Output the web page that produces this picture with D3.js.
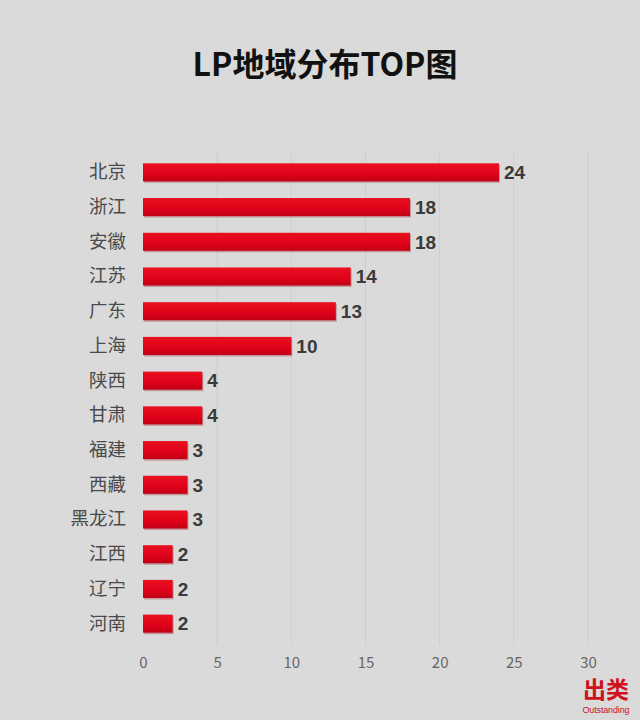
<!DOCTYPE html>
<html><head><meta charset="utf-8">
<script src="https://cdn.jsdelivr.net/npm/d3@7"></script>
<style>body{margin:0;background:#dadada;}svg{display:block;}</style>
</head><body>
<svg id="c" width="640" height="720"></svg>
<script>
const categories = ["北京","浙江","安徽","江苏","广东","上海","陕西","甘肃","福建","西藏","黑龙江","江西","辽宁","河南"];
const values = [24,18,18,14,13,10,4,4,3,3,3,2,2,2];
const tickValues = [0,5,10,15,20,25,30];

const svg = d3.select("#c");
const font = "'Noto Sans CJK SC','Noto Sans',sans-serif";
svg.append("rect").attr("width",640).attr("height",720).attr("fill","#dadada");

const defs = svg.append("defs");
const g = defs.append("linearGradient").attr("id","bg").attr("x1",0).attr("y1",0).attr("x2",0).attr("y2",1);
g.append("stop").attr("offset","0%").attr("stop-color","#e8101f");
g.append("stop").attr("offset","60%").attr("stop-color","#e0021a");
g.append("stop").attr("offset","100%").attr("stop-color","#bf0015");

const x = d3.scaleLinear().domain([0,30]).range([143,588]);
const y = d3.scaleBand().domain(categories).range([155,641]).paddingInner(0.48).paddingOuter(0.24);

// gridlines
svg.append("g").selectAll("line").data(tickValues.slice(1)).join("line")
  .attr("x1",d=>x(d)).attr("x2",d=>x(d)).attr("y1",150).attr("y2",645)
  .attr("stroke","#cecece").attr("stroke-width",1);

// title
svg.append("text").attr("x",325).attr("y",76).attr("text-anchor","middle")
  .attr("font-family",font).attr("font-size",32).attr("font-weight","bold").attr("fill","#111")
  .text("LP地域分布TOP图");

// bars shadow
svg.append("g").selectAll("rect").data(values).join("rect")
  .attr("x",x(0)+1).attr("y",(d,i)=>y(categories[i])+1.5)
  .attr("width",d=>x(d)-x(0)).attr("height",y.bandwidth())
  .attr("fill","#8a0010").attr("opacity",0.3);
svg.append("g").selectAll("rect").data(values).join("rect")
  .attr("x",x(0)).attr("y",(d,i)=>y(categories[i]))
  .attr("width",d=>x(d)-x(0)).attr("height",y.bandwidth())
  .attr("fill","url(#bg)");

// value labels
svg.append("g").selectAll("text").data(values).join("text")
  .attr("x",d=>x(d)+5).attr("y",(d,i)=>y(categories[i])+y.bandwidth()/2)
  .attr("dy","0.36em").attr("font-family","'Liberation Sans',Arial,sans-serif").attr("font-size",19).attr("font-weight","bold")
  .attr("fill","#3a3a3a").text(d=>d);

// category axis
const ya = svg.append("g").attr("transform","translate(134,0)")
  .call(d3.axisLeft(y).tickSize(0).tickPadding(8));
ya.select(".domain").remove();
ya.selectAll("text").attr("font-family",font).attr("font-size",18.5).attr("fill","#4a4a4a");

// x axis
const xa = svg.append("g").attr("transform","translate(0,651)")
  .call(d3.axisBottom(x).tickValues(tickValues).tickSize(0).tickPadding(6));
xa.select(".domain").remove();
xa.selectAll("text").attr("font-family",font).attr("font-size",15).attr("fill","#666");

// logo
svg.append("text").attr("x",606).attr("y",698).attr("text-anchor","middle")
  .attr("font-family",font).attr("font-size",23).attr("font-weight","bold").attr("fill","#d0101a").text("出类");
svg.append("text").attr("x",606).attr("y",713).attr("text-anchor","middle")
  .attr("font-family","'Liberation Sans',sans-serif").attr("font-size",9).attr("textLength",47).attr("fill","#d0101a").text("Outstanding");
</script>
</body></html>
